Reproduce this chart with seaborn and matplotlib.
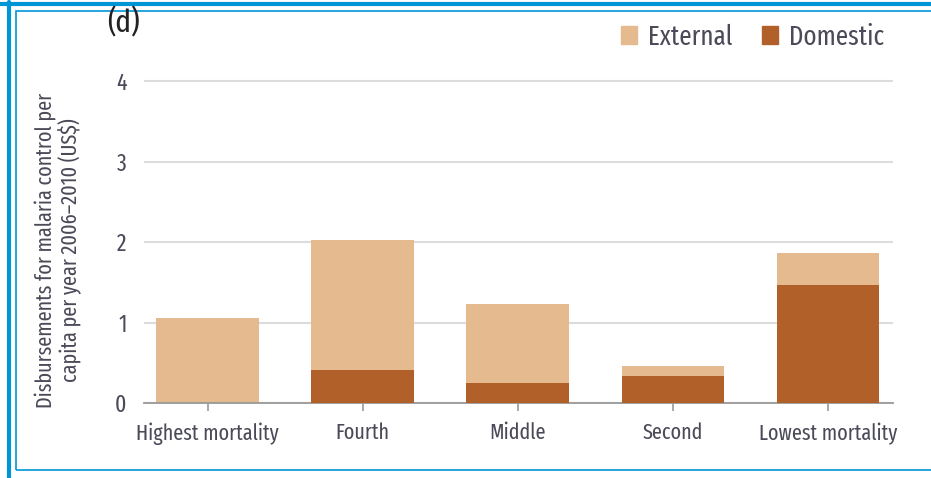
import matplotlib
matplotlib.use("Agg")
import matplotlib.pyplot as plt
import seaborn as sns
import pandas as pd
from matplotlib.patches import Rectangle, Patch
from matplotlib.lines import Line2D

# data (US$ per capita per year)
categories = ["Highest mortality", "Fourth", "Middle", "Second", "Lowest mortality"]
domestic = [0.0, 0.41, 0.25, 0.33, 1.47]
external = [1.06, 1.62, 0.98, 0.13, 0.40]
y_ticks = [0, 1, 2, 3, 4]

df = pd.DataFrame({"group": categories, "domestic": domestic, "external": external})
df["total"] = df["domestic"] + df["external"]

ext_col = "#E6BA8F"
dom_col = "#B06028"
txt_col = "#4a4a58"

sns.set_style("white")
plt.rcParams["font.family"] = ["Fira Sans Extra Condensed", "DejaVu Sans"]

fig = plt.figure(figsize=(9.31, 4.78), dpi=100)
ax = fig.add_axes([0.1547, 0.157, 0.8043, 0.69])

# stacked bars: total in light colour, domestic part drawn over it
sns.barplot(data=df, x="group", y="total", color=ext_col, width=0.66,
            saturation=1, linewidth=0, ax=ax, zorder=2)
sns.barplot(data=df, x="group", y="domestic", color=dom_col, width=0.66,
            saturation=1, linewidth=0, ax=ax, zorder=3)

ax.set_ylim(0, 4.1)
ax.set_xlim(-0.41, 4.42)
ax.set_yticks(y_ticks)
ax.yaxis.grid(True, color="#dcdcdc", lw=1.5, zorder=0)
ax.set_axisbelow(True)
for s in ["top", "right", "left"]:
    ax.spines[s].set_visible(False)
ax.spines["bottom"].set_color("#999999")
ax.spines["bottom"].set_linewidth(1.3)
ax.tick_params(axis="x", bottom=True, length=6, width=1.2, color="#999999",
               labelsize=15.8, labelcolor=txt_col, pad=8)
ax.tick_params(axis="y", left=False, labelsize=17, labelcolor=txt_col, pad=9)
ax.set_xlabel("")
ax.set_ylabel("")

fig.text(0.062, 0.477, "Disbursements for malaria control per\ncapita per year 2006\u20132010 (US$)",
         rotation=90, ha="center", va="center", fontsize=15.8, color=txt_col,
         linespacing=1.05)

fig.text(0.115, 0.951, "(d)", fontsize=23, color="#222222", ha="left", va="center")

handles = [Patch(color=ext_col, label="External"), Patch(color=dom_col, label="Domestic")]
fig.legend(handles=handles, loc="center right", bbox_to_anchor=(0.976, 0.923),
           ncol=2, frameon=False, fontsize=19.5, handlelength=0.6, handleheight=0.6,
           handletextpad=0.4, columnspacing=1.1, labelcolor=txt_col)

# blue frame around the panel
blue = "#0096D6"
fig.add_artist(Line2D([0, 1], [0.992, 0.992], color=blue, lw=3, transform=fig.transFigure))
fig.add_artist(Line2D([0.0095, 0.0095], [0.0, 0.995], color=blue, lw=3, transform=fig.transFigure))
fig.add_artist(Rectangle((0.0175, 0.017), 0.99, 0.96, fill=False, edgecolor=blue,
                         lw=1.2, transform=fig.transFigure))

fig.savefig("out.png", dpi=100)
